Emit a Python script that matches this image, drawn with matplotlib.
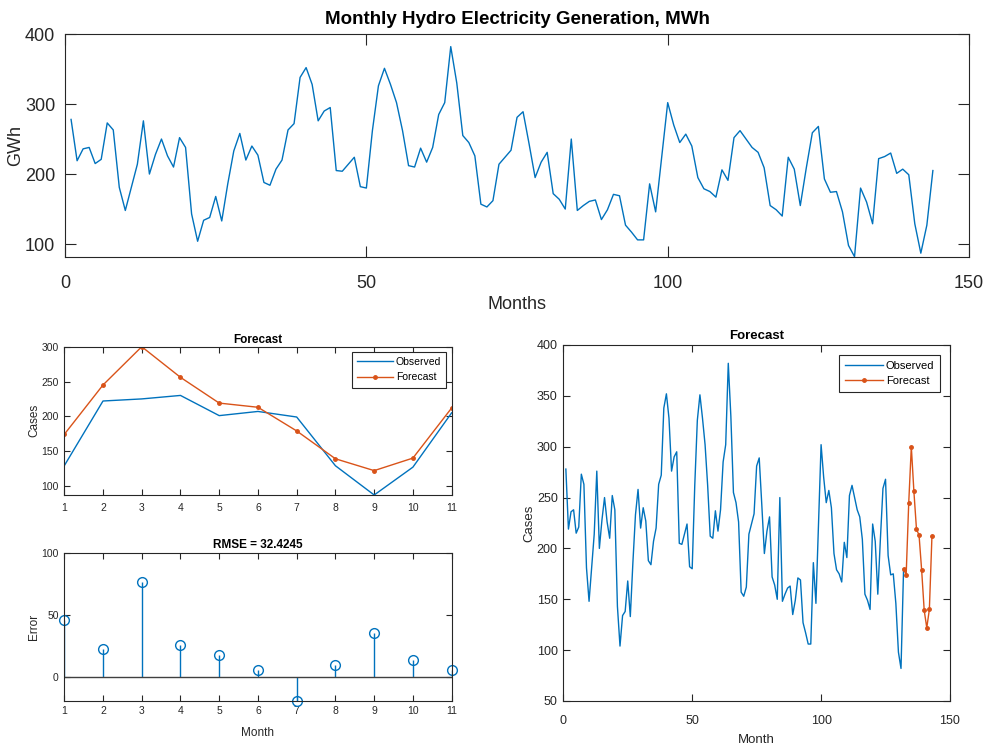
import matplotlib
matplotlib.use("Agg")
import matplotlib.pyplot as plt
import numpy as np

plt.rcParams['font.family'] = ['Liberation Sans', 'DejaVu Sans']

# monthly hydro generation, months 1..144
hydro = [278, 219, 236, 238, 215, 221, 273, 263, 181, 148,
         181, 214, 276, 200, 228, 250, 226, 210, 252, 238,
         143, 104, 134, 138, 168, 133, 186, 233, 258, 220,
         240, 227, 188, 184, 207, 220, 263, 272, 338, 352,
         328, 276, 290, 295, 205, 204, 214, 224, 182, 180,
         262, 326, 351, 328, 302, 262, 212, 210, 237, 217,
         238, 285, 302, 382, 330, 255, 245, 226, 157, 153,
         162, 214, 224, 234, 281, 289, 243, 195, 217, 231,
         172, 164, 150, 250, 148, 155, 161, 163, 135, 149,
         171, 169, 127, 117, 106, 106, 186, 146, 224, 302,
         270, 245, 257, 240, 195, 179, 175, 167, 206, 191,
         252, 262, 250, 238, 231, 209, 155, 149, 140, 224,
         207, 155, 209, 259, 268, 193, 174, 175, 146, 98,
         82, 180, 160, 129, 222, 225, 230, 201, 207, 199,
         129, 87, 127, 205]

# test window (last 11 months) and forecasts
observed = [129, 222, 225, 230, 201, 207, 199, 129, 87, 127, 205]
forecast = [174, 245, 300, 256, 219, 213, 179, 139, 122, 140, 212]
errors = [46, 23, 77, 26, 18, 6, -19, 10, 36, 14, 6]
n_train = 132

blue = '#0072BD'
orange = '#D95319'
dark = '#262626'


def matlab_axes(ax, size, ticklen=6, xpad=4, ypad=4):
    for s in ax.spines.values():
        s.set_color(dark)
        s.set_linewidth(0.8)
    ax.tick_params(direction='in', top=True, right=True, length=ticklen,
                   width=0.8, color=dark, labelcolor=dark, labelsize=size)
    ax.tick_params(axis='x', pad=xpad)
    ax.tick_params(axis='y', pad=ypad)


def matlab_legend(ax, size, pad):
    leg = ax.legend(loc='upper right', fontsize=size, fancybox=False,
                    framealpha=1, edgecolor=dark, handlelength=3.4,
                    borderpad=0.5, labelspacing=0.5, handletextpad=0.3,
                    borderaxespad=pad)
    leg.get_frame().set_linewidth(0.8)
    return leg


fig = plt.figure(figsize=(9.87, 7.44), dpi=100)

# top panel
ax1 = fig.add_axes([0.0659, 0.655, 0.9159, 0.2993])
months = np.arange(1, len(hydro) + 1)
ax1.plot(months, hydro, color=blue, lw=1.0)
ax1.set_xlim(0, 150)
ax1.set_ylim(82, 400)
ax1.set_xticks([0, 50, 100, 150])
ax1.set_yticks([100, 200, 300, 400])
matlab_axes(ax1, 13, ticklen=8, xpad=13, ypad=7)
ax1.set_title('Monthly Hydro Electricity Generation, MWh', fontsize=13.5,
              fontweight='bold', color='black', pad=7)
ax1.set_xlabel('Months', fontsize=13, color=dark, labelpad=3)
ax1.set_ylabel('GWh', fontsize=13, color=dark, labelpad=1)

# bottom left: forecast vs observed
ax2 = fig.add_axes([0.0651, 0.3347, 0.3925, 0.1993])
k = np.arange(1, len(observed) + 1)
ax2.plot(k, observed, color=blue, lw=1.0, label='Observed')
ax2.plot(k, forecast, '.-', color=orange, lw=1.0, ms=5, label='Forecast')
ax2.set_xlim(1, 11)
ax2.set_ylim(87, 300)
ax2.set_xticks(k)
ax2.set_yticks([100, 150, 200, 250, 300])
matlab_axes(ax2, 7.5, ticklen=4, xpad=6)
ax2.set_title('Forecast', fontsize=8.5, fontweight='bold', color='black', pad=3)
ax2.set_ylabel('Cases', fontsize=8.5, color=dark, labelpad=1)
matlab_legend(ax2, 7.5, 0.5)

# bottom left: errors
ax3 = fig.add_axes([0.0651, 0.0582, 0.3925, 0.1981])
mk, st, bl = ax3.stem(k, errors, basefmt='-')
plt.setp(mk, marker='o', markersize=7, markerfacecolor='none',
         markeredgecolor=blue, markeredgewidth=1.0, clip_on=False)
plt.setp(st, color=blue, linewidth=1.0)
plt.setp(bl, color='#404040', linewidth=1.0)
ax3.set_xlim(1, 11)
ax3.set_ylim(-19, 100)
ax3.set_xticks(k)
ax3.set_yticks([0, 50, 100])
matlab_axes(ax3, 7.5, ticklen=4, xpad=4)
rmse = 32.4245
ax3.set_title('RMSE = %.4f' % rmse, fontsize=8.5, fontweight='bold',
              color='black', pad=4)
ax3.set_xlabel('Month', fontsize=8.5, color=dark, labelpad=8)
ax3.set_ylabel('Error', fontsize=8.5, color=dark, labelpad=1)

# bottom right: full series with forecast
ax4 = fig.add_axes([0.5707, 0.0578, 0.3918, 0.4785])
ax4.plot(months[:n_train], hydro[:n_train], color=blue, lw=1.0,
         label='Observed')
fx = np.arange(n_train, n_train + len(forecast) + 1)
fy = [hydro[n_train - 1]] + forecast
ax4.plot(fx, fy, '.-', color=orange, lw=1.0, ms=5, label='Forecast')
ax4.set_xlim(0, 150)
ax4.set_ylim(50, 400)
ax4.set_xticks([0, 50, 100, 150])
ax4.set_yticks(np.arange(50, 401, 50))
matlab_axes(ax4, 9, ticklen=5, xpad=10)
ax4.set_title('Forecast', fontsize=9.5, fontweight='bold', color='black', pad=4)
ax4.set_xlabel('Month', fontsize=9.5, color=dark, labelpad=5)
ax4.set_ylabel('Cases', fontsize=9.5, color=dark, labelpad=1)
matlab_legend(ax4, 8, 0.9)

fig.savefig('out.png', dpi=100)
